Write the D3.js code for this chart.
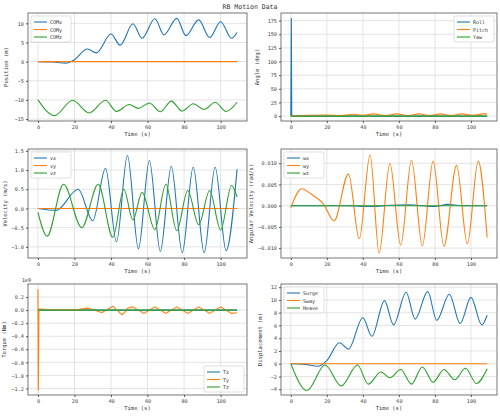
<!DOCTYPE html><html><head><meta charset="utf-8">
<script src="https://cdn.jsdelivr.net/npm/d3@7"></script>
<style>body{margin:0;background:#fff}text{font-family:"DejaVu Sans Mono",monospace;fill:#333}</style></head><body>
<svg id="c" width="500" height="416"></svg>
<script>
const title="RB Motion Data";
const comX=[[0,0],[8,-0.1],[15,-0.4],[20,0.5],[27,3.3],[32,2.3],[40,7.2],[45,4.3],[52,9.9],[57,6.1],[64,11.2],[69,7],[76,11.3],[81,6.8],[88,10.9],[94,6.3],[100,10.4],[106,6.1],[109,7.6]];
const comY=[[0,0],[109,0]];
const comZ=[[0,-10],[9,-14.1],[19,-10.1],[28,-13.4],[37,-10.1],[43,-13],[50,-11.2],[55,-12.2],[61,-10.8],[67,-13.1],[73,-10.3],[79,-12.9],[85,-11],[91,-12.5],[97,-10.6],[103,-13],[109,-10.6]];
const roll=[[0,0],[0.3,180],[0.5,0],[109,0]];
const pitch=[[0,0],[10,1.5],[20,2],[28,1],[35,3.5],[40,1.5],[46,4],[52,1],[59,4],[65,1],[71,4],[77,1.2],[83,4],[89,1],[95,4],[101,1.5],[107,4],[109,4]];
const yaw=[[0,0],[109,0]];
const vx=[[0,0],[10,-0.05],[22,0.5],[30,-0.32],[37,1.05],[43,-0.87],[49,1.38],[55,-1.05],[61,1.25],[67,-1.12],[73,1.1],[79,-1.15],[85,1.08],[91,-1.15],[97,1.08],[103,-1.1],[109,1.02]];
const vy=[[0,0],[109,0]];
const vz=[[0,-0.1],[5,-0.72],[14,0.63],[24,-0.5],[33,0.63],[41,-0.75],[47,0.5],[52,-0.3],[57,0.42],[64,-0.55],[70,0.63],[76,-0.58],[82,0.47],[88,-0.42],[94,0.47],[100,-0.56],[106,0.6],[109,0.3]];
const wx=[[0,0],[30,0],[45,-0.0002],[55,0.0001],[65,0.0002],[80,-0.0002],[87,0.0003],[95,0],[109,0]];
const wy=[[0,-0.0005],[6,0.004],[12,0.0025],[18,0.0005],[24,-0.0036],[32,0.0075],[38,-0.0078],[44,0.012],[49,-0.0112],[55,0.010],[61,-0.0093],[67,0.0107],[73,-0.0095],[79,0.0105],[85,-0.0096],[92,0.0095],[98,-0.009],[104,0.0105],[109,-0.0075]];
const wz=[[0,0],[109,0]];
const tx=[[0,0],[109,0]];
const ty=[[0,0.32],[0.2,-1.23],[0.5,0.02],[5,0.01],[20,0],[27,0.03],[30,0.01],[35,-0.04],[41,0.06],[46,-0.07],[48,-0.02],[49,0.03],[52,0.05],[58,-0.05],[64,0.05],[70,-0.05],[76,0.05],[82,-0.05],[88,0.05],[94,-0.05],[100,0.05],[106,-0.05],[109,-0.04]];
const tz=[[0,0],[109,0]];
const surge=comX, sway=comY;
const heave=[[0,0],[9,-4.2],[19,-0.2],[28,-3.5],[37,-0.2],[43,-3.2],[50,-1.3],[55,-2.2],[61,-0.9],[67,-3.2],[73,-0.5],[79,-2.9],[85,-0.9],[91,-2.5],[97,-0.7],[103,-3.1],[109,-0.8]];
const xTicks=[0,20,40,60,80,100];
const colors=["#1f77b4","#ff7f0e","#2ca02c"];
const panels=[
 {x:28,y:13,w:219,h:108,yd:[-15.5,12.7],yt:[-15,-10,-5,0,5,10],yl:"Position (m)",names:["COMx","COMy","COMz"],s:[comX,comY,comZ],leg:"ul",fmt:d3.format("d"),lo:-20},
 {x:281,y:13,w:216,h:108,yd:[-9,189],yt:[0,25,50,75,100,125,150,175],yl:"Angle (deg)",names:["Roll","Pitch","Yaw"],s:[roll,pitch,yaw],leg:"ur",fmt:d3.format("d"),linear:[0],lo:-22},
 {x:28,y:149,w:219,h:109,yd:[-1.29,1.55],yt:[-1,-0.5,0,0.5,1,1.5],yl:"Velocity (m/s)",names:["vx","vy","vz"],s:[vx,vy,vz],leg:"ul",fmt:d3.format(".1f"),lo:-21},
 {x:281,y:149,w:216,h:109,yd:[-0.01233,0.01336],yt:[-0.01,-0.005,0,0.005,0.01],yl:"Angular Velocity (rad/s)",names:["wx","wy","wz"],s:[wx,wy,wz],leg:"ul",fmt:d3.format(".3f"),lo:-28},
 {x:28,y:284,w:219,h:111,yd:[-1.3,0.4],yt:[-1.2,-1,-0.8,-0.6,-0.4,-0.2,0,0.2],yl:"Torque (Nm)",names:["Tx","Ty","Tz"],s:[tx,ty,tz],leg:"lr",fmt:d3.format(".1f"),off:"1e9",linear:[1],lo:-22},
 {x:281,y:284,w:216,h:111,yd:[-4.9,12.5],yt:[-4,-2,0,2,4,6,8,10,12],yl:"Displacement (m)",names:["Surge","Sway","Heave"],s:[surge,sway,heave],leg:"ul",fmt:d3.format("d"),lo:-19}
];
const svg=d3.select("#c");
svg.append("text").attr("x",250).attr("y",9).attr("text-anchor","middle").attr("font-size",6.5).text(title);
panels.forEach(p=>{
 const g=svg.append("g").attr("transform",`translate(${p.x},${p.y})`);
 const x=d3.scaleLinear().domain([-5.45,114.45]).range([0,p.w]);
 const y=d3.scaleLinear().domain(p.yd).range([p.h,0]);
 g.append("g").selectAll("line").data(xTicks).join("line").attr("x1",x).attr("x2",x).attr("y1",0).attr("y2",p.h).attr("stroke","#ddd").attr("stroke-width",0.8);
 g.append("g").selectAll("line").data(p.yt).join("line").attr("y1",y).attr("y2",y).attr("x1",0).attr("x2",p.w).attr("stroke","#ddd").attr("stroke-width",0.8);
 const xa=g.append("g").attr("transform",`translate(0,${p.h})`).call(d3.axisBottom(x).tickValues(xTicks).tickSize(2).tickPadding(2));
 const ya=g.append("g").call(d3.axisLeft(y).tickValues(p.yt).tickFormat(p.fmt).tickSize(2).tickPadding(2));
 [xa,ya].forEach(a=>{a.selectAll("text").attr("font-size",5.2).style("fill","#444");a.select(".domain").remove();a.selectAll("line").attr("stroke","#555");});
 g.append("rect").attr("width",p.w).attr("height",p.h).attr("fill","none").attr("stroke","#555").attr("stroke-width",0.8);
 p.s.forEach((d,i)=>{
  const line=d3.line().x(v=>x(v[0])).y(v=>y(v[1])).curve((p.linear&&p.linear.includes(i))?d3.curveLinear:d3.curveMonotoneX);
  g.append("path").datum(d).attr("d",line).attr("fill","none").attr("stroke",colors[i]).attr("stroke-width",1.1);
 });
 g.append("text").attr("x",p.w/2).attr("y",p.h+15).attr("text-anchor","middle").attr("font-size",5.5).text("Time (s)");
 g.append("text").attr("transform",`translate(${p.lo},${p.h/2}) rotate(-90)`).attr("text-anchor","middle").attr("font-size",5.5).text(p.yl);
 if(p.off) g.append("text").attr("x",-6).attr("y",-2).attr("font-size",5).text(p.off);
 const lw=40,lh=26;
 const lx=p.leg==="ur"||p.leg==="lr"?p.w-lw-3:3, ly=p.leg==="lr"?p.h-lh-3:3;
 const L=g.append("g").attr("transform",`translate(${lx},${ly})`);
 L.append("rect").attr("width",lw).attr("height",lh).attr("rx",1.5).attr("fill","#fff").attr("fill-opacity",0.85).attr("stroke","#ccc").attr("stroke-width",0.6);
 p.names.forEach((n,i)=>{
  L.append("line").attr("x1",3).attr("x2",16).attr("y1",6+i*7.5).attr("y2",6+i*7.5).attr("stroke",colors[i]).attr("stroke-width",1.1);
  L.append("text").attr("x",19).attr("y",8+i*7.5).attr("font-size",5).text(n);
 });
});
</script></body></html>
